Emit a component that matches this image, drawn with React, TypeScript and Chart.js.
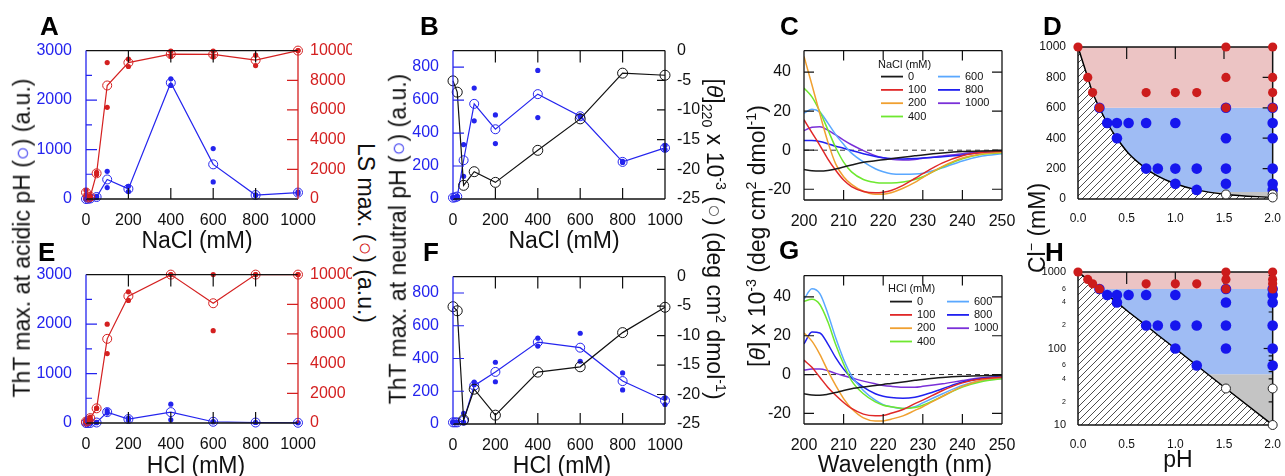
import React, { useEffect, useRef } from 'react';
import { Chart, registerables } from 'chart.js';

Chart.register(...registerables);

const FONT = '"Liberation Sans", Arial, Helvetica, sans-serif';
const BLUE = '#2424ee';
const RED = '#d42020';
const INK = '#111111';

// ---------------- data ----------------
const CONC = [0, 10, 20, 50, 100, 200, 400, 600, 800, 1000];
const CD_CONC = [0, 20, 50, 100, 200, 400, 600, 800, 1000];
const CONC_TICKS = [0, 200, 400, 600, 800, 1000];
const CONC_INNER = [200, 400, 600, 800];

// A: NaCl, acidic pH
const A_THT = [0, 5, 10, 40, 395, 205, 2350, 700, 80, 130];
const A_THT_R1 = [0, 5, 15, 55, 560, 257, 2430, 1020, 85, 145];
const A_THT_R2 = [0, 5, 5, 25, 230, 150, 2295, 345, 72, 112];
const A_LS = [440, 100, 150, 1730, 7650, 9190, 9760, 9740, 9360, 10000];
const A_LS_R1 = [590, 150, 200, 1800, 9190, 9430, 9960, 9960, 9690, 10000];
const A_LS_R2 = [300, 60, 100, 1650, 6180, 8930, 9630, 9580, 8990, 10000];

// E: HCl, acidic pH
const E_THT = [0, 0, 0, 10, 220, 80, 220, 25, 10, 5];
const E_THT_R1 = [0, 0, 0, 15, 250, 100, 380, 30, 10, 5];
const E_THT_R2 = [0, 0, 0, 5, 200, 60, 65, 20, 10, 5];
const E_LS = [90, 150, 330, 990, 5670, 8550, 10000, 8070, 10000, 10000];
const E_LS_R1 = [120, 200, 400, 1000, 6660, 8840, 10000, 10000, 10000, 10000];
const E_LS_R2 = [60, 100, 260, 980, 4680, 8260, 10000, 6220, 10000, 10000];

// B: NaCl, neutral pH
const B_THT = [8, 10, 15, 235, 577, 423, 636, 502, 225, 310];
const B_THT_R1 = [8, 10, 15, 330, 673, 510, 780, 505, 228, 326];
const B_THT_R2 = [8, 10, 15, 138, 474, 336, 494, 498, 222, 300];
const B_CD = [-5.1, -7.0, -22.7, -20.4, -22.2, -16.8, -11.5, -3.8, -4.15];

// F: HCl, neutral pH
const F_THT = [10, 10, 10, 20, 234, 318, 500, 466, 262, 143];
const F_THT_R1 = [10, 10, 10, 65, 256, 377, 524, 554, 312, 159];
const F_THT_R2 = [10, 10, 10, 10, 240, 258, 476, 383, 208, 119];
const F_CD = [-5.1, -5.8, -24.3, -19.1, -23.5, -16.2, -15.3, -9.5, -5.2];

// C / G: CD spectra
const WL = [200, 202, 204, 206, 208, 210, 212, 215, 218, 220, 222, 225, 228, 230, 235, 240, 245, 250];
const CD_LABELS = ['0', '100', '200', '400', '600', '800', '1000'];
const C_0 = [-9.9, -10.5, -10.7, -10.4, -9.6, -8.6, -7.6, -6.2, -5.4, -4.9, -4.4, -3.6, -2.9, -2.4, -1.4, -0.7, -0.4, -0.3];
const C_100 = [15.6, 9, 2.5, -4.4, -10.3, -15.3, -18.6, -21.1, -21.8, -21.5, -20.6, -18, -14.5, -12, -6.5, -2.8, -1.1, -0.6];
const C_200 = [48, 33.5, 18.6, 4.4, -7, -13.6, -17.5, -21, -22.5, -22.5, -21.8, -19.5, -16.5, -14, -8.3, -4, -1.8, -1.1];
const C_400 = [31.8, 27.3, 19.8, 10.6, 1.4, -6.1, -11.1, -15, -16.5, -16.8, -16.8, -16.3, -15, -13.6, -8.6, -4.4, -2.1, -1.3];
const C_600 = [19, 21, 19.5, 14, 8, 3, -1.5, -6, -9.5, -11, -12, -12.3, -12.2, -11.8, -9, -5.5, -3, -1.8];
const C_800 = [5, 5, 4.5, 3.3, 2, 1, -0.2, -1.8, -3.2, -3.9, -4.3, -4.5, -4.3, -4, -3.3, -2.4, -1.2, -0.7];
const C_1000 = [10, 11.8, 12, 10.3, 7.8, 5.2, 2.8, -0.2, -2.8, -3.9, -4.7, -5, -4.7, -4.1, -3, -1.8, -0.8, -0.4];
const G_0 = [-9.9, -10.5, -10.7, -10.2, -9.3, -8.2, -7.3, -6.4, -5.7, -5.1, -4.6, -3.8, -3, -2.5, -1.5, -0.9, -0.6, -0.5];
const G_100 = [7.4, 3.7, -1.4, -6.5, -10.7, -14.4, -17.5, -20.4, -21.2, -21.1, -20, -18, -15, -13.2, -8.2, -4.3, -2.2, -1.4];
const G_200 = [21.4, 17.2, 10.4, 2, -5.6, -12.4, -17.5, -22.3, -23.9, -23.9, -23, -21.3, -18.5, -16.6, -11.2, -6.1, -2.8, -1.4];
const G_400 = [37.8, 38.8, 36.1, 27.3, 15.5, 5.4, -3.1, -9.9, -14.1, -15.8, -16.6, -17.5, -17, -15.8, -11.2, -6.5, -3.6, -2.2];
const G_600 = [38.8, 44.2, 41.7, 31.5, 18.9, 7.9, -0.6, -8.2, -13.2, -15.5, -16.6, -17.5, -16.6, -14.6, -9.9, -5.6, -3.1, -2.1];
const G_800 = [15.8, 21.9, 21.4, 15.8, 8.7, 2.8, -1.7, -6.5, -9.9, -11.2, -11.9, -12.2, -11.7, -10.7, -7.3, -3.9, -1.9, -1.1];
const G_1000 = [2.3, 2.8, 2.8, 2, 0.6, -0.6, -1.7, -3.4, -4.8, -5.6, -6.1, -6.5, -6.5, -6.1, -4.8, -3.1, -1.7, -1.1];
const CD_COLORS = ['#1a1a1a', '#e02828', '#f0a030', '#6ee830', '#5aa8ff', '#2020f0', '#7a30d8'];

// D / H: phase diagram
const BOUND_PH = [0, 0.1, 0.15, 0.22, 0.3, 0.4, 0.52, 0.7, 0.82, 1.0, 1.22, 1.52, 2.0];
const BOUND_CL = [1000, 800, 700, 600, 500, 400, 300, 200, 150, 100, 60, 30, 10];
const RED_PH = [0, 0.1, 0.15, 0.22, 0.7, 1.0, 1.22, 1.52, 1.52, 1.52, 2, 2, 2, 2];
const RED_CL = [1000, 800, 700, 600, 700, 700, 700, 1000, 800, 600, 1000, 800, 700, 600];
const BLUE_PH = [0.22, 0.3, 0.4, 0.52, 0.7, 1.0, 0.4, 0.7, 0.82, 1.0, 1.22, 1.52, 1.0, 1.22, 1.52, 1.52, 1.52, 2, 2, 2, 2, 2, 2];
const BLUE_CL = [600, 500, 500, 500, 500, 500, 400, 200, 200, 200, 200, 200, 100, 60, 100, 400, 600, 600, 500, 400, 200, 100, 60];
const WHITE_PH = [1.52, 2, 2];
const WHITE_CL = [30, 30, 10];
const ZONE_PINK = [600, 1000];
const ZONE_BLUE = [46, 600];
const ZONE_GRAY_TOP = 46;

// ticks
const THT_ACID_TICKS = [0, 1000, 2000, 3000];
const LS_TICKS = [0, 2000, 4000, 6000, 8000, 10000];
const THT_NEUT_TICKS = [0, 200, 400, 600, 800];
const CD220_TICKS = [-25, -20, -15, -10, -5, 0];
const WL_TICKS = [200, 210, 220, 230, 240, 250];
const CD_Y_TICKS = [-20, 0, 20, 40];
const PH_TICKS = [0, 0.5, 1, 1.5, 2];
const CL_TICKS = [0, 200, 400, 600, 800, 1000];
const CL_LOG_TICKS = [10, 20, 40, 60, 100, 200, 400, 600, 1000];
const CL_LOG_LABELS = ['10', '2', '4', '6', '100', '2', '4', '6', '1000'];
const CL_LOG_MINOR = [20, 30, 40, 50, 60, 70, 80, 90, 200, 300, 400, 500, 600, 700, 800, 900];

// ---------------- helpers ----------------
const pts = (xs: number[], ys: number[]) => xs.map((x, i) => ({ x, y: ys[i] }));

function makeDeco(cfg: any) {
  const drawFrame = (chart: any) => {
    const { ctx, chartArea: a } = chart;
    ctx.save();
    ctx.lineWidth = cfg.lw ?? 1.3;
    const seg = (c: string, x1: number, y1: number, x2: number, y2: number) => {
      ctx.strokeStyle = c;
      ctx.beginPath();
      ctx.moveTo(x1, y1);
      ctx.lineTo(x2, y2);
      ctx.stroke();
    };
    const f = cfg.frame;
    seg(f.top, a.left, a.top, a.right, a.top);
    seg(f.bottom, a.left, a.bottom, a.right, a.bottom);
    seg(f.left, a.left, a.top, a.left, a.bottom);
    seg(f.right, a.right, a.top, a.right, a.bottom);
    for (const t of cfg.ticks) {
      const s = chart.scales[t.scale];
      ctx.strokeStyle = t.color;
      ctx.lineWidth = t.w ?? 1.2;
      ctx.beginPath();
      for (const v of t.values) {
        const p = s.getPixelForValue(v);
        if (t.side === 'left') { ctx.moveTo(a.left, p); ctx.lineTo(a.left + t.len, p); }
        else if (t.side === 'right') { ctx.moveTo(a.right, p); ctx.lineTo(a.right - t.len, p); }
        else if (t.side === 'top') { ctx.moveTo(p, a.top); ctx.lineTo(p, a.top + t.len); }
        else { ctx.moveTo(p, a.bottom); ctx.lineTo(p, a.bottom - t.len); }
      }
      ctx.stroke();
    }
    ctx.restore();
  };
  const drawLegend = (chart: any) => {
    const L = cfg.legend;
    if (!L) return;
    const { ctx, chartArea: a } = chart;
    ctx.save();
    ctx.font = `${L.size}px ${FONT}`;
    ctx.fillStyle = INK;
    ctx.textBaseline = 'middle';
    ctx.textAlign = 'left';
    ctx.fillText(L.title, a.left + L.x, a.top + L.y);
    const items = chart.data.datasets.filter((d: any) => !String(d.label).startsWith('_'));
    items.forEach((d: any, i: number) => {
      const col = i < L.perCol ? 0 : 1;
      const row = col ? i - L.perCol : i;
      const x = a.left + L.x + L.lineX + col * L.colW;
      const y = a.top + L.y + L.row0 + row * L.rowH;
      ctx.strokeStyle = d.borderColor;
      ctx.lineWidth = 1.8;
      ctx.beginPath();
      ctx.moveTo(x, y);
      ctx.lineTo(x + L.lineLen, y);
      ctx.stroke();
      ctx.fillText(d.label, x + L.lineLen + L.gap, y);
    });
    ctx.restore();
  };
  return {
    id: 'deco',
    beforeDatasetsDraw(chart: any) { if (cfg.under) drawFrame(chart); },
    afterDatasetsDraw(chart: any) { if (!cfg.under) drawFrame(chart); drawLegend(chart); },
  };
}

function xAxis(min: number, max: number, ticks: number[], h: number, size: number, fmt?: any) {
  return {
    type: 'linear', position: 'bottom', min, max,
    grid: { display: false }, border: { display: false },
    afterBuildTicks: (s: any) => { s.ticks = ticks.map((v) => ({ value: v })); },
    afterFit: (s: any) => { s.height = h; },
    ticks: {
      color: INK, font: { family: FONT, size }, padding: 4, maxRotation: 0, minRotation: 0, autoSkip: false,
      callback: fmt ?? ((v: any) => String(v)),
    },
  };
}

function yAxis(position: string, min: number, max: number, ticks: number[], color: string, width: number, size: number, opts: any = {}) {
  return {
    type: opts.type ?? 'linear', position, min, max,
    grid: { display: false }, border: { display: false },
    afterBuildTicks: (s: any) => { s.ticks = ticks.map((v) => ({ value: v })); },
    afterFit: (s: any) => { s.width = width; },
    ticks: {
      color, font: opts.font ?? { family: FONT, size }, padding: opts.padding ?? 5, autoSkip: false,
      callback: opts.fmt ?? ((v: any) => String(v)),
    },
  };
}

const meanSet = (label: string, xs: number[], ys: number[], color: string, axis: string) => ({
  label, data: pts(xs, ys), yAxisID: axis, borderColor: color, borderWidth: 1.2,
  pointRadius: 4.5, pointBorderWidth: 1, pointBorderColor: color, pointBackgroundColor: 'rgba(255,255,255,0)',
  backgroundColor: 'rgba(0,0,0,0)', fill: false, clip: false, tension: 0,
});
const repSet = (label: string, xs: number[], r1: number[], r2: number[], color: string, axis: string) => ({
  label, data: [...pts(xs, r1), ...pts(xs, r2)], yAxisID: axis, showLine: false,
  pointRadius: 2.6, pointBorderWidth: 0, pointBackgroundColor: color, pointBorderColor: color, clip: false,
});

const baseOptions = (padTop: number, padRight: number) => ({
  animation: false, responsive: false, maintainAspectRatio: false, events: [],
  layout: { padding: { top: padTop, right: padRight, left: 0, bottom: 0 } },
  plugins: { legend: { display: false }, tooltip: { enabled: false } },
});

function acidicCfg(pad: any, tht: number[], t1: number[], t2: number[], ls: number[], l1: number[], l2: number[]) {
  return {
    type: 'line',
    data: {
      datasets: [
        meanSet('_ls', CONC, ls, RED, 'y2'),
        repSet('_lsr', CONC, l1, l2, RED, 'y2'),
        meanSet('_tht', CONC, tht, BLUE, 'y'),
        repSet('_thtr', CONC, t1, t2, BLUE, 'y'),
      ],
    },
    options: {
      ...baseOptions(pad.t, 0),
      scales: {
        x: xAxis(0, 1000, CONC_TICKS, pad.b, 16),
        y: yAxis('left', 0, 3000, THT_ACID_TICKS, BLUE, pad.l, 16, { padding: 6 }),
        y2: yAxis('right', 0, 10000, LS_TICKS, RED, pad.r, 16, { padding: 4 }),
      },
    },
    plugins: [makeDeco({
      frame: { top: INK, bottom: INK, left: BLUE, right: RED },
      ticks: [
        { scale: 'x', side: 'top', values: CONC_INNER, len: 12, color: INK },
        { scale: 'x', side: 'bottom', values: CONC_INNER, len: 11, color: INK },
        { scale: 'y', side: 'left', values: [1000, 2000], len: 11, color: BLUE },
        { scale: 'y', side: 'left', values: [500, 1500, 2500], len: 6, color: BLUE },
        { scale: 'y2', side: 'right', values: [2000, 4000, 6000, 8000], len: 11, color: RED },
      ],
    })],
  };
}

function neutralCfg(pad: any, tht: number[], t1: number[], t2: number[], cd: number[]) {
  return {
    type: 'line',
    data: {
      datasets: [
        { ...meanSet('_cd', CD_CONC, cd, INK, 'y2'), pointRadius: 5 },
        meanSet('_tht', CONC, tht, BLUE, 'y'),
        repSet('_thtr', CONC, t1, t2, BLUE, 'y'),
      ],
    },
    options: {
      ...baseOptions(pad.t, 0),
      scales: {
        x: xAxis(0, 1000, CONC_TICKS, pad.b, 16),
        y: yAxis('left', 0, 900, THT_NEUT_TICKS, BLUE, pad.l, 16, { padding: 6 }),
        y2: yAxis('right', -25, 0, CD220_TICKS, INK, pad.r, 16, { padding: 4 }),
      },
    },
    plugins: [makeDeco({
      frame: { top: INK, bottom: INK, left: BLUE, right: INK },
      ticks: [
        { scale: 'x', side: 'top', values: CONC_INNER, len: 12, color: INK },
        { scale: 'x', side: 'bottom', values: CONC_INNER, len: 11, color: INK },
        { scale: 'y', side: 'left', values: [200, 400, 600, 800], len: 11, color: BLUE },
        { scale: 'y2', side: 'right', values: [-20, -15, -10, -5], len: 8, color: INK },
      ],
    })],
  };
}

function cdCfg(pad: any, series: number[][], title: string, legend: any) {
  const sets: any[] = series.map((ys, i) => ({
    label: CD_LABELS[i], data: pts(WL, ys), borderColor: CD_COLORS[i], borderWidth: 1.5,
    pointRadius: 0, cubicInterpolationMode: 'monotone', fill: false,
  }));
  sets.push({
    label: '_zero', data: pts([200, 250], [0, 0]), borderColor: '#333', borderWidth: 1,
    borderDash: [5, 4], pointRadius: 0, fill: false, order: 10,
  });
  return {
    type: 'line',
    data: { datasets: sets },
    options: {
      ...baseOptions(pad.t, pad.r),
      scales: {
        x: xAxis(200, 250, WL_TICKS, pad.b, 16),
        y: yAxis('left', -25.5, 51, CD_Y_TICKS, INK, pad.l, 16, { padding: 5 }),
      },
    },
    plugins: [makeDeco({
      frame: { top: INK, bottom: INK, left: INK, right: INK },
      ticks: [
        { scale: 'x', side: 'top', values: [210, 220, 230, 240], len: 10, color: INK },
        { scale: 'x', side: 'bottom', values: [210, 220, 230, 240], len: 10, color: INK },
        { scale: 'y', side: 'left', values: CD_Y_TICKS, len: 10, color: INK },
        { scale: 'y', side: 'right', values: CD_Y_TICKS, len: 10, color: INK },
      ],
      legend: { title, ...legend },
    })],
  };
}

function makeHatch() {
  const s = 7;
  const c = document.createElement('canvas');
  c.width = s; c.height = s;
  const g = c.getContext('2d')!;
  g.fillStyle = '#ffffff';
  g.fillRect(0, 0, s, s);
  g.strokeStyle = '#3a3a3a';
  g.lineWidth = 0.9;
  g.beginPath();
  g.moveTo(-1, s + 1); g.lineTo(s + 1, -1);
  g.moveTo(-2, 2); g.lineTo(2, -2);
  g.moveTo(s - 2, s + 2); g.lineTo(s + 2, s - 2);
  g.stroke();
  return g.createPattern(c, 'repeat');
}

function phaseCfg(pad: any, log: boolean) {
  const hatch = makeHatch();
  const yMin = log ? 10 : 0;
  const datasets: any[] = [
    { label: '_red', data: pts(RED_PH, RED_CL), showLine: false, pointRadius: 4.6, pointBorderWidth: 0, pointBackgroundColor: '#cc1c1c', order: 0, clip: false },
    { label: '_white', data: pts(WHITE_PH, WHITE_CL), showLine: false, pointRadius: 4.5, pointBorderWidth: 1, pointBorderColor: '#222', pointBackgroundColor: '#ffffff', order: 0, clip: false },
    { label: '_blue', data: pts(BLUE_PH, BLUE_CL), showLine: false, pointRadius: 5.3, pointBorderWidth: 0, pointBackgroundColor: '#1616ee', order: 1, clip: false },
    {
      label: '_bound', data: pts(BOUND_PH, BOUND_CL), borderColor: '#000', borderWidth: 1.5, pointRadius: 0,
      cubicInterpolationMode: log ? 'default' : 'monotone', tension: 0, fill: 'start', backgroundColor: hatch, order: 5,
    },
    { label: '_pink', data: pts([0, 2], [ZONE_PINK[1], ZONE_PINK[1]]), borderColor: 'rgba(0,0,0,0)', borderWidth: 0, pointRadius: 0, fill: { value: ZONE_PINK[0] }, backgroundColor: '#ecc4c4', order: 6 },
    { label: '_bluez', data: pts([0, 2], [ZONE_BLUE[1], ZONE_BLUE[1]]), borderColor: 'rgba(0,0,0,0)', borderWidth: 0, pointRadius: 0, fill: { value: ZONE_BLUE[0] }, backgroundColor: '#9fbcf4', order: 7 },
    { label: '_gray', data: pts([0, 2], [ZONE_GRAY_TOP, ZONE_GRAY_TOP]), borderColor: 'rgba(0,0,0,0)', borderWidth: 0, pointRadius: 0, fill: 'start', backgroundColor: '#c4c4c4', order: 8 },
  ];
  const yScale = log
    ? yAxis('left', 10, 1000, CL_LOG_TICKS, INK, pad.l, 11, {
        type: 'logarithmic', padding: 4,
        font: (ctx: any) => ({ family: FONT, size: ctx.tick && [10, 100, 1000].includes(ctx.tick.value) ? 11 : 7 }),
        fmt: (v: any) => CL_LOG_LABELS[CL_LOG_TICKS.indexOf(Number(v))] ?? '',
      })
    : yAxis('left', 0, 1000, CL_TICKS, INK, pad.l, 12, { padding: 4 });
  const rightTicks = log
    ? [
        { scale: 'y', side: 'right', values: [100], len: 9, color: INK },
        { scale: 'y', side: 'right', values: CL_LOG_MINOR, len: 4, color: INK },
      ]
    : [{ scale: 'y', side: 'right', values: [200, 400, 600, 800], len: 10, color: INK }];
  return {
    type: 'line',
    data: { datasets },
    options: {
      ...baseOptions(pad.t, pad.r),
      plugins: { legend: { display: false }, tooltip: { enabled: false }, filler: { drawTime: 'beforeDatasetsDraw' } },
      scales: {
        x: xAxis(0, 2, PH_TICKS, pad.b, 12, (v: any) => Number(v).toFixed(1)),
        y: { ...yScale, min: yMin },
      },
    },
    plugins: [makeDeco({
      under: true,
      lw: 1.5,
      frame: { top: INK, bottom: INK, left: INK, right: INK },
      ticks: [{ scale: 'x', side: 'top', values: [0.5, 1, 1.5], len: 12, color: INK }, ...rightTicks],
    })],
  };
}

// ---------------- components ----------------
function Panel({ box, pad, make }: any) {
  const ref = useRef<HTMLCanvasElement | null>(null);
  const w = box.r - box.l + pad.l + pad.r;
  const h = box.b - box.t + pad.t + pad.b;
  useEffect(() => {
    const chart = new Chart(ref.current as HTMLCanvasElement, make(pad));
    return () => chart.destroy();
  }, []);
  return (
    <canvas
      ref={ref}
      width={w}
      height={h}
      style={{ position: 'absolute', left: box.l - pad.l, top: box.t - pad.t, width: w, height: h }}
    />
  );
}

function T({ x, y, rot = 0, size = 23, children }: any) {
  return (
    <div
      style={{
        position: 'absolute', left: x, top: y, transform: `translate(-50%, -50%) rotate(${rot}deg)`,
        whiteSpace: 'nowrap', font: `${size}px ${FONT}`, lineHeight: 1.15, color: INK,
      }}
    >
      {children}
    </div>
  );
}

function Letter({ x, y, children }: any) {
  return (
    <div style={{ position: 'absolute', left: x, top: y, font: `bold 26px ${FONT}`, lineHeight: 1, color: '#000' }}>
      {children}
    </div>
  );
}

const Sup = ({ children }: any) => <span style={{ fontSize: '0.62em', position: 'relative', top: '-0.6em' }}>{children}</span>;
const Sub = ({ children }: any) => <span style={{ fontSize: '0.62em', position: 'relative', top: '0.35em' }}>{children}</span>;

const PAD_AE = { l: 60, r: 54, t: 12, b: 30 };
const PAD_BF = { l: 60, r: 40, t: 12, b: 30 };
const PAD_CG = { l: 42, r: 22, t: 12, b: 30 };
const PAD_DH = { l: 42, r: 9, t: 12, b: 24 };

export default function App() {
  return (
    <div style={{ position: 'fixed', left: 0, top: 0, width: 1285, height: 476, background: '#fff', overflow: 'hidden' }}>
      <Panel box={{ l: 86, t: 47, r: 298, b: 199 }} pad={PAD_AE} make={(p: any) => acidicCfg(p, A_THT, A_THT_R1, A_THT_R2, A_LS, A_LS_R1, A_LS_R2)} />
      <Panel box={{ l: 86, t: 271, r: 298, b: 423 }} pad={PAD_AE} make={(p: any) => acidicCfg(p, E_THT, E_THT_R1, E_THT_R2, E_LS, E_LS_R1, E_LS_R2)} />
      <Panel box={{ l: 453, t: 47, r: 665, b: 199 }} pad={PAD_BF} make={(p: any) => neutralCfg(p, B_THT, B_THT_R1, B_THT_R2, B_CD)} />
      <Panel box={{ l: 453, t: 273, r: 665, b: 424 }} pad={PAD_BF} make={(p: any) => neutralCfg(p, F_THT, F_THT_R1, F_THT_R2, F_CD)} />
      <Panel
        box={{ l: 804, t: 48, r: 1002, b: 200 }}
        pad={PAD_CG}
        make={(p: any) => cdCfg(p, [C_0, C_100, C_200, C_400, C_600, C_800, C_1000], 'NaCl (mM)',
          { x: 74, y: 14, row0: 12, rowH: 13.3, lineX: 3, lineLen: 22, gap: 5, colW: 57, perCol: 4, size: 11 })}
      />
      <Panel
        box={{ l: 804, t: 273, r: 1002, b: 424 }}
        pad={PAD_CG}
        make={(p: any) => cdCfg(p, [G_0, G_100, G_200, G_400, G_600, G_800, G_1000], 'HCl (mM)',
          { x: 84, y: 13, row0: 13, rowH: 13.3, lineX: 2, lineLen: 22, gap: 5, colW: 57, perCol: 4, size: 11 })}
      />
      <Panel box={{ l: 1078, t: 47, r: 1276, b: 199 }} pad={PAD_DH} make={(p: any) => phaseCfg(p, false)} />
      <Panel box={{ l: 1078, t: 272, r: 1276, b: 425 }} pad={PAD_DH} make={(p: any) => phaseCfg(p, true)} />

      <T x={22} y={238} rot={-90}>ThT max. at acidic pH (<span style={{ color: BLUE }}>○</span>) (a.u.)</T>
      <T x={366} y={233} rot={90}>LS max. (<span style={{ color: RED }}>○</span>) (a.u.)</T>
      <T x={398} y={239} rot={-90}>ThT max. at neutral pH (<span style={{ color: BLUE }}>○</span>) (a.u.)</T>
      <T x={715} y={239} rot={90}>
        [<i>θ</i>]<Sub>220</Sub> x 10<Sup>-3</Sup> (<span style={{ color: '#666' }}>○</span>) (deg cm<Sup>2</Sup> dmol<Sup>-1</Sup>)
      </T>
      <T x={757} y={236} rot={-90}>
        [<i>θ</i>] x 10<Sup>-3</Sup> (deg cm<Sup>2</Sup> dmol<Sup>-1</Sup>)
      </T>
      <T x={1037} y={228} rot={-90}>Cl<Sup>−</Sup> (mM)</T>
      <T x={197} y={240}>NaCl (mM)</T>
      <T x={564} y={240}>NaCl (mM)</T>
      <T x={196} y={465}>HCl (mM)</T>
      <T x={562} y={465}>HCl (mM)</T>
      <T x={905} y={464}>Wavelength (nm)</T>
      <T x={1178} y={459}>pH</T>

      <Letter x={40} y={13}>A</Letter>
      <Letter x={420} y={13}>B</Letter>
      <Letter x={780} y={13}>C</Letter>
      <Letter x={1043} y={13}>D</Letter>
      <Letter x={38} y={239}>E</Letter>
      <Letter x={423} y={239}>F</Letter>
      <Letter x={779} y={237}>G</Letter>
      <Letter x={1045} y={239}>H</Letter>
    </div>
  );
}
